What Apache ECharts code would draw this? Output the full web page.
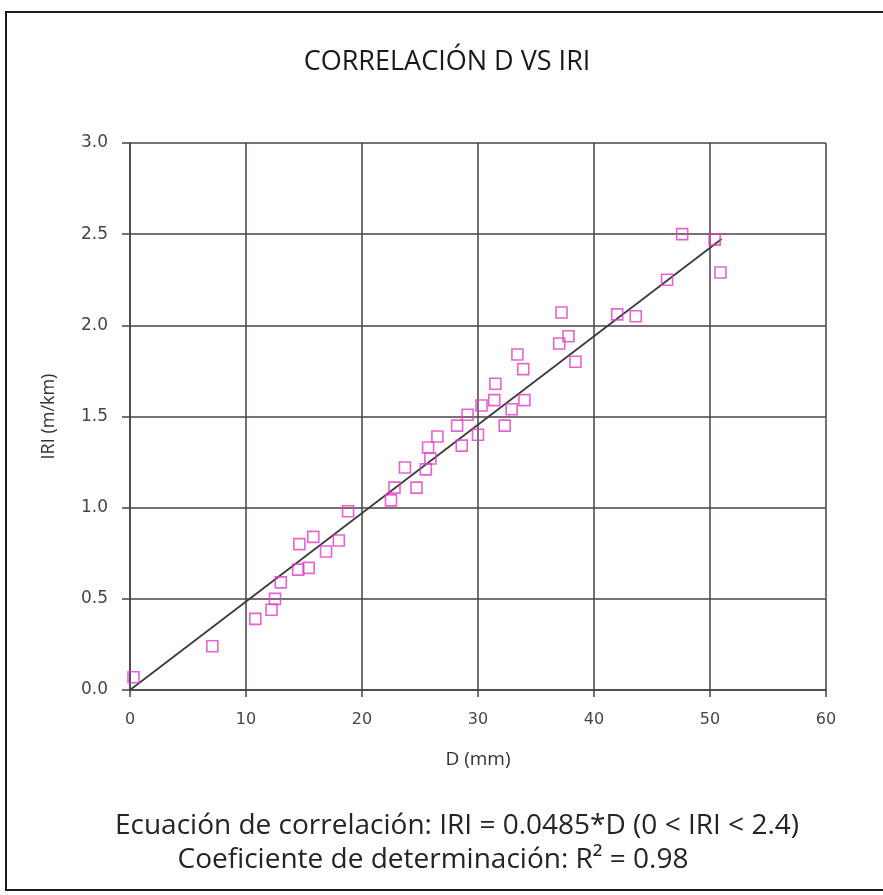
<!DOCTYPE html>
<html>
<head>
<meta charset="utf-8">
<script src="https://cdn.jsdelivr.net/npm/echarts@6/dist/echarts.min.js"></script>
<style>
  html, body { margin: 0; padding: 0; background: #ffffff; }
  #chart { width: 883px; height: 895px; }
</style>
</head>
<body>
<div id="chart"></div>
<script>
// Measured deflection D (mm) and roughness IRI (m/km)
const dValues = [
  0.3, 7.1, 10.8, 12.2, 12.5, 13.0, 14.6, 14.5, 15.4, 15.8,
  16.9, 18.0, 18.8, 22.5, 22.8, 23.7, 24.7, 25.5, 25.7, 25.9,
  26.5, 28.2, 28.6, 29.1, 30.0, 30.3, 31.4, 31.5, 32.3, 32.9,
  33.4, 33.9, 34.0, 37.0, 37.2, 37.8, 38.4, 42.0, 43.6, 46.3,
  47.6, 50.4, 50.9
];
const iriValues = [
  0.07, 0.24, 0.39, 0.44, 0.50, 0.59, 0.80, 0.66, 0.67, 0.84,
  0.76, 0.82, 0.98, 1.04, 1.11, 1.22, 1.11, 1.21, 1.33, 1.27,
  1.39, 1.45, 1.34, 1.51, 1.40, 1.56, 1.59, 1.68, 1.45, 1.54,
  1.84, 1.76, 1.59, 1.90, 2.07, 1.94, 1.80, 2.06, 2.05, 2.25,
  2.50, 2.47, 2.29
];

// Correlation line IRI = 0.0485 * D
const slope = 0.0485;
const trendD = [0, 51];

const xTicks = [0, 10, 20, 30, 40, 50, 60];
const yTicks = [0, 0.5, 1.0, 1.5, 2.0, 2.5, 3.0];

const titleText = 'CORRELACIÓN D VS IRI';
const eqText = 'Ecuación de correlación: IRI = 0.0485*D (0 < IRI < 2.4)';
const r2Text = 'Coeficiente de determinación: R² = 0.98';

const points = dValues.map((d, i) => [d, iriValues[i]]);
const trend = trendD.map(d => [d, slope * d]);

const gridColor = '#4d3f4a';
const labelColor = '#4f414c';

const chart = echarts.init(document.getElementById('chart'), null, { renderer: 'canvas' });
chart.setOption({
  backgroundColor: '#ffffff',
  animation: false,
  grid: { left: 130, right: 57, top: 143, bottom: 205 },
  xAxis: {
    type: 'value',
    min: xTicks[0], max: xTicks[xTicks.length - 1], interval: 10,
    name: 'D (mm)', nameLocation: 'middle', nameGap: 60,
    nameTextStyle: { fontFamily: 'Open Sans', fontSize: 19, color: '#3a2e38' },
    axisLine: { show: true, lineStyle: { color: gridColor, width: 1.5 } },
    axisTick: { show: true, inside: false, length: 7, lineStyle: { color: gridColor, width: 1.5 } },
    axisLabel: { margin: 22, fontFamily: 'DejaVu Sans', fontSize: 16, color: labelColor },
    splitLine: { show: true, lineStyle: { color: gridColor, width: 1.5 } }
  },
  yAxis: {
    type: 'value',
    min: yTicks[0], max: yTicks[yTicks.length - 1], interval: 0.5,
    name: 'IRI (m/km)', nameLocation: 'middle', nameGap: 72, nameRotate: 90,
    nameTextStyle: { fontFamily: 'Open Sans', fontSize: 18, color: '#3a2e38' },
    axisLine: { show: true, lineStyle: { color: gridColor, width: 1.5 } },
    axisTick: { show: true, inside: false, length: 8, lineStyle: { color: gridColor, width: 1.5 } },
    axisLabel: {
      margin: 22, fontFamily: 'DejaVu Sans', fontSize: 17, color: labelColor,
      formatter: v => v.toFixed(1)
    },
    splitLine: { show: true, lineStyle: { color: gridColor, width: 1.5 } }
  },
  series: [
    {
      type: 'line',
      data: trend,
      showSymbol: false,
      symbol: 'none',
      lineStyle: { color: '#3c3c3c', width: 1.8 },
      z: 2
    },
    {
      type: 'scatter',
      data: points,
      symbol: 'rect',
      symbolSize: 11,
      itemStyle: { color: 'rgba(255,255,255,0)', borderColor: '#e03cc4', borderWidth: 1.6 },
      z: 3
    }
  ],
  graphic: [
    {
      type: 'rect',
      shape: { x: 6, y: 12, width: 900, height: 878 },
      style: { fill: 'none', stroke: '#1e1a1e', lineWidth: 2 },
      silent: true
    },
    {
      type: 'text',
      x: 447, y: 62,
      style: {
        text: titleText, fontFamily: 'Open Sans', fontSize: 27,
        fill: '#1e161c', align: 'center', verticalAlign: 'middle'
      }
    },
    {
      type: 'text',
      x: 457, y: 826,
      style: {
        text: eqText, fontFamily: 'Open Sans', fontSize: 28,
        fill: '#2a2028', align: 'center', verticalAlign: 'middle'
      }
    },
    {
      type: 'text',
      x: 433, y: 860,
      style: {
        text: r2Text, fontFamily: 'Open Sans', fontSize: 28,
        fill: '#2a2028', align: 'center', verticalAlign: 'middle'
      }
    }
  ]
});
</script>
</body>
</html>
